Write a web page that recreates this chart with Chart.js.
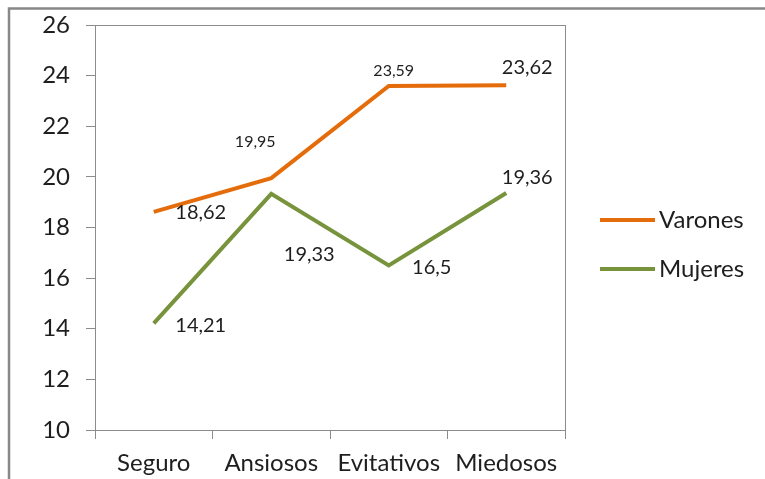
<!DOCTYPE html>
<html>
<head>
<meta charset="utf-8">
<script src="https://cdn.jsdelivr.net/npm/chart.js@4.4.1/dist/chart.umd.min.js"></script>
<style>
  html, body { margin: 0; padding: 0; background: #fff; }
  #wrap { width: 765px; height: 479px; position: relative; }
</style>
</head>
<body>
<div id="wrap"><canvas id="chart" width="765" height="479"></canvas></div>
<script>
const categories = ['Seguro', 'Ansiosos', 'Evitativos', 'Miedosos'];
const varones = [18.62, 19.95, 23.59, 23.62];
const mujeres = [14.21, 19.33, 16.5, 19.36];
const yTicks = [10, 12, 14, 16, 18, 20, 22, 24, 26];

// where each value label sits relative to its point (dx, dy, font size)
const varonesLabelPos = [[47, 1, 20], [-16, -36, 16], [5, -15, 16], [21, -18, 20]];
const mujeresLabelPos = [[47, 2, 20], [38, 61, 20], [43, 2, 20], [21, -16, 20]];

const FONT = 'Lato, "Open Sans", sans-serif';
const TEXT = '#1e1e1e';
const AXIS_GRAY = '#8c8c8c';

function fmt(v) {
    return String(v).replace('.', ',');
}

// value labels next to the points
const valueLabels = {
    id: 'valueLabels',
    afterDatasetsDraw(chart) {
        const ctx = chart.ctx;
        const layouts = [varonesLabelPos, mujeresLabelPos];
        ctx.save();
        ctx.fillStyle = TEXT;
        ctx.textAlign = 'center';
        ctx.textBaseline = 'middle';
        chart.data.datasets.forEach((ds, di) => {
            const meta = chart.getDatasetMeta(di);
            meta.data.forEach((pt, i) => {
                const [dx, dy, size] = layouts[di][i];
                ctx.font = size + 'px ' + FONT;
                ctx.fillText(fmt(ds.data[i]), pt.x + dx, pt.y + dy);
            });
        });
        ctx.restore();
    }
};

// legend on the right: short line + series name
const sideLegend = {
    id: 'sideLegend',
    afterDraw(chart) {
        const ctx = chart.ctx;
        const a = chart.chartArea;
        const x0 = a.right + 35;
        const y0 = 220;
        ctx.save();
        ctx.font = '24px ' + FONT;
        ctx.textBaseline = 'middle';
        ctx.textAlign = 'left';
        chart.data.datasets.forEach((ds, i) => {
            const y = y0 + i * 49;
            ctx.strokeStyle = ds.borderColor;
            ctx.lineWidth = 4;
            ctx.beginPath();
            ctx.moveTo(x0, y);
            ctx.lineTo(x0 + 55, y);
            ctx.stroke();
            ctx.fillStyle = TEXT;
            ctx.fillText(ds.label, x0 + 59, y);
        });
        ctx.restore();
    }
};

// plot area box + outer frame
const frames = {
    id: 'frames',
    beforeDraw(chart) {
        const ctx = chart.ctx;
        const a = chart.chartArea;
        ctx.save();
        ctx.strokeStyle = AXIS_GRAY;
        ctx.lineWidth = 1;
        ctx.strokeRect(Math.round(a.left) + 0.5, Math.round(a.top) + 0.5, Math.round(a.right - a.left), Math.round(a.bottom - a.top));
        ctx.lineWidth = 2.5;
        ctx.strokeStyle = '#888';
        ctx.strokeRect(9, 8.5, 800, 500);
        ctx.restore();
    }
};

const ctx = document.getElementById('chart').getContext('2d');
new Chart(ctx, {
    type: 'line',
    data: {
        labels: categories,
        datasets: [
            { label: 'Varones', data: varones, borderColor: '#e46c0a', backgroundColor: '#e46c0a', borderWidth: 4, pointRadius: 0, tension: 0 },
            { label: 'Mujeres', data: mujeres, borderColor: '#77933c', backgroundColor: '#77933c', borderWidth: 4, pointRadius: 0, tension: 0 }
        ]
    },
    options: {
        responsive: false,
        animation: false,
        layout: { padding: { top: 25, left: 0, right: 200, bottom: 0 } },
        plugins: {
            legend: { display: false },
            tooltip: { enabled: false }
        },
        scales: {
            x: {
                offset: true,
                grid: { offset: true, drawOnChartArea: false, drawTicks: true, tickLength: 9, color: AXIS_GRAY },
                border: { display: true, color: AXIS_GRAY },
                ticks: { color: TEXT, font: { family: FONT, size: 24 }, padding: 10, maxRotation: 0 },
                afterFit(scale) { scale.height = 49; }
            },
            y: {
                min: 10,
                max: 26,
                afterBuildTicks(scale) { scale.ticks = yTicks.map(v => ({ value: v })); },
                grid: { drawOnChartArea: false, drawTicks: true, tickLength: 9, color: AXIS_GRAY },
                border: { display: true, color: AXIS_GRAY },
                ticks: { color: TEXT, font: { family: FONT, size: 24 }, padding: 16 },
                afterFit(scale) {
                    scale.width = 95;
                    scale.paddingTop = 0;
                    scale.paddingBottom = 0;
                }
            }
        }
    },
    plugins: [frames, valueLabels, sideLegend]
});
</script>
</body>
</html>
